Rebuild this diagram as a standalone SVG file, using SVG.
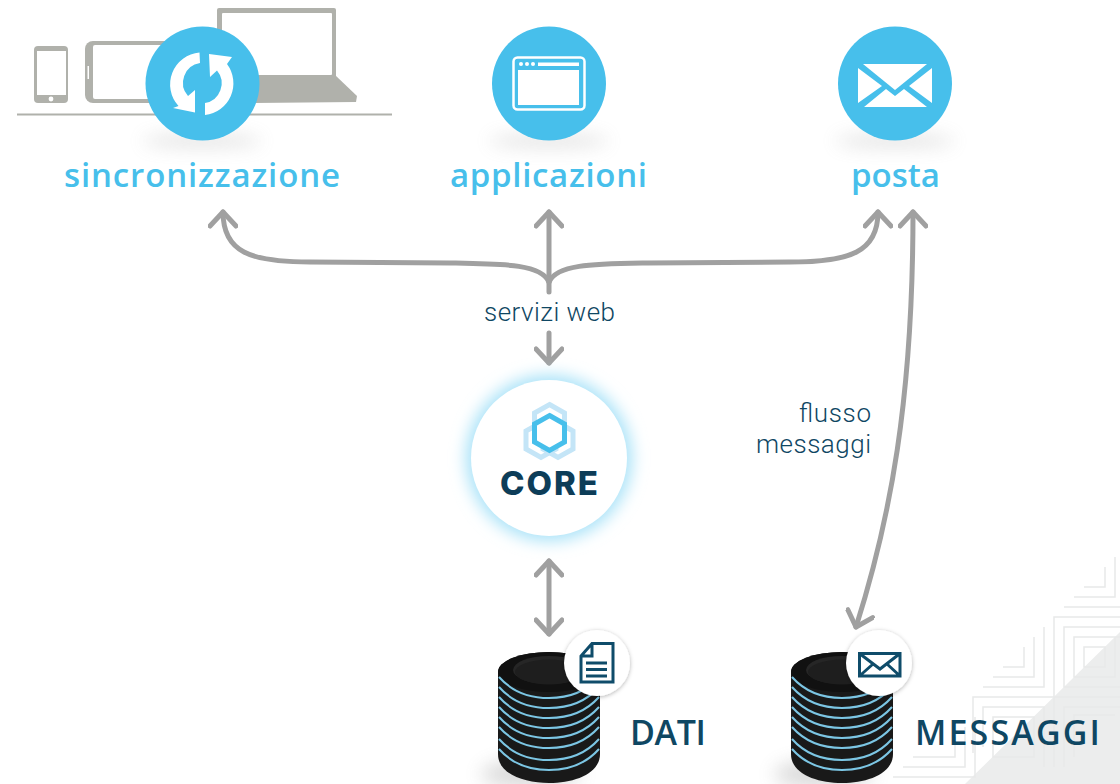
<svg xmlns="http://www.w3.org/2000/svg" width="1120" height="784" viewBox="0 0 1120 784">
<style>
.lbl{font-family:"Open Sans","Noto Sans",sans-serif;font-weight:600;font-size:33px;fill:#47bfeb}
.note{font-family:Roboto,"Noto Sans",sans-serif;font-weight:300;font-size:26px;fill:#0f4763}
.db{font-family:"Open Sans","Noto Sans",sans-serif;font-weight:600;font-size:34px;fill:#0f4763}
.conn{fill:none;stroke:#a0a0a0;stroke-width:5;stroke-linecap:round}
.pat{fill:none;stroke:#e8e9e9;stroke-width:1.5}
.hero{fill:#47bfeb}
.ico{fill:#fff}
.dev{fill:#b0b1ab}
.dk{fill:none;stroke:#0f4c6a;stroke-width:3}
.wave{fill:none;stroke:#7cc6e4;stroke-width:2}
</style>
<defs>
<marker id="ah" viewBox="0 0 20 30" refX="17" refY="15" markerUnits="userSpaceOnUse" markerWidth="20" markerHeight="30" orient="auto-start-reverse">
<path d="M3,2 L17,15 L3,28" fill="none" stroke="#a0a0a0" stroke-width="5" stroke-linecap="round" stroke-linejoin="round"/>
</marker>
<filter id="b8" x="-50%" y="-200%" width="200%" height="500%"><feGaussianBlur stdDeviation="9"/></filter>
<filter id="glow" x="-30%" y="-30%" width="160%" height="160%"><feGaussianBlur stdDeviation="8"/></filter>
<filter id="bs" x="-30%" y="-30%" width="160%" height="160%"><feDropShadow dx="0" dy="1" stdDeviation="2" flood-color="#000" flood-opacity=".3"/></filter>
<g id="cyl">
<ellipse cx="-18" cy="122" rx="50" ry="14" fill="#888" opacity=".3" filter="url(#b8)"/>
<path d="M-51,20 A51,20 0 0 1 51,20 V102 C51,122 25,131 0,131 C-25,131 -51,122 -51,102 Z" fill="#191919"/>
<ellipse cx="0" cy="20" rx="51" ry="20" fill="#111"/>
<ellipse cx="0" cy="18" rx="36" ry="14" fill="#262626"/>
<ellipse cx="0" cy="20" rx="34" ry="12.500" fill="#1e1e1e"/>
<path class="wave" d="M-50,25 C-35,42 -15,46 0,46 C15,46 35,42 50,25"/>
<path class="wave" d="M-50,35 C-35,52 -15,56 0,56 C15,56 35,52 50,35"/>
<path class="wave" d="M-50,45 C-35,62 -15,66 0,66 C15,66 35,62 50,45"/>
<path class="wave" d="M-50,55 C-35,72 -15,76 0,76 C15,76 35,72 50,55"/>
<path class="wave" d="M-50,65 C-35,82 -15,86 0,86 C15,86 35,82 50,65"/>
<path class="wave" d="M-50,75 C-35,92 -15,96 0,96 C15,96 35,92 50,75"/>
<path class="wave" d="M-50,87 C-35,104 -15,108 0,108 C15,108 35,104 50,87"/>
<path class="wave" d="M-50,97 C-35,114 -15,118 0,118 C15,118 35,114 50,97"/>
</g>
</defs>
<rect width="1120" height="784" fill="#fff"/>
<g id="background">
<path d="M1120,632 L965,784 H1120 Z" fill="#eceded"/>
<path class="pat" d="M1084,587 H1105 V567 M1074,597 H1115 V557 M1064,607 H1120 M1120,617 H1054 V767 M1120,627 H1064 V687 H1120 M1120,637 H1074 V677 H1115 V637 M1084,647 H1105 V667 H1084 Z M1003,667 H1024 V647 M993,677 H1034 V637 M983,687 H1044 V627 M973,753 V697 H1120 M983,747 V707 H1044 V767 M993,717 H1034 V757 H993 Z M1120,707 H1064 V767 M1115,715 H1074 V757 M913,757 H955 V737 M903,767 H965 V727 M893,777 H975 V717"/>
</g>
<g id="sincronizzazione">
<path class="dev" d="M38,46 H64 A4,4 0 0 1 68,50 V99 A4,4 0 0 1 64,103 H38 A4,4 0 0 1 34,99 V50 A4,4 0 0 1 38,46 Z"/>
<rect x="37" y="51" width="29" height="44" fill="#fff"/>
<circle cx="51" cy="99" r="2.400" fill="#fff"/>
<path class="dev" d="M93,41 H170 V103 H93 A8,8 0 0 1 85,95 V49 A8,8 0 0 1 93,41 Z"/>
<rect x="93" y="45" width="77" height="54" rx="2" fill="#fff"/>
<rect x="87.500" y="66" width="1.500" height="13" fill="#fff"/>
<rect x="217" y="8" width="119" height="72" rx="2" class="dev"/>
<rect x="222" y="13" width="110" height="62" rx="1" fill="#fff"/>
<path class="dev" d="M240,75 H335 L357,96 L356,102 L240,103 Z"/>
<rect x="17" y="113.500" width="375" height="2" class="dev"/>
<ellipse cx="202" cy="141" rx="60" ry="6" fill="#999" opacity=".3" filter="url(#b8)"/>
<circle cx="202.500" cy="83.500" r="57" class="hero"/>
<path class="ico" d="M199.500,52.500 A32,32 0 0 0 178.500,106 L173,108 L195,112.500 L195,90 L188,96 A20,20 0 0 1 200,63 Z"/>
<path class="ico" d="M205,115 A32,32 0 0 0 227,64 L232,57 L209,54 L210,77 L217,70.500 A20,20 0 0 1 205,103 Z"/>
<text class="lbl" x="64" y="187" textLength="276" lengthAdjust="spacing">sincronizzazione</text>
</g>
<g id="applicazioni">
<ellipse cx="549" cy="141" rx="60" ry="6" fill="#999" opacity=".3" filter="url(#b8)"/>
<circle cx="549" cy="83.500" r="57" class="hero"/>
<rect x="513.500" y="57.500" width="71" height="52" rx="4" fill="none" stroke="#fff" stroke-width="2.500"/>
<rect x="518" y="70" width="61" height="35" class="ico"/>
<circle cx="521" cy="64" r="2" class="ico"/><circle cx="527" cy="64" r="2" class="ico"/><circle cx="533" cy="64" r="2" class="ico"/>
<rect x="538" y="62.500" width="41" height="3.500" class="ico"/>
<text class="lbl" x="450" y="187" textLength="197" lengthAdjust="spacing">applicazioni</text>
</g>
<g id="posta">
<ellipse cx="895" cy="141" rx="60" ry="6" fill="#999" opacity=".3" filter="url(#b8)"/>
<circle cx="895" cy="83.500" r="57" class="hero"/>
<path class="ico" d="M863,64 H927 L895,90 Z M858,68 L882,86 L858,103 Z M932,68 L909,86 L932,103 Z M864,107 L886,89 L895,96 L904,89 L927,107 Z"/>
<text class="lbl" x="851" y="187" textLength="89" lengthAdjust="spacing">posta</text>
</g>
<g id="connectors">
<path class="conn" d="M549,292 V212" marker-end="url(#ah)"/>
<path class="conn" d="M549,282 C541,264 505,264 450,263 L310,262 C250,262 223,252 223,212" marker-end="url(#ah)"/>
<path class="conn" d="M549,282 C557,264 593,264 648,263 L790,262 C850,262 878,252 878,212" marker-end="url(#ah)"/>
<path class="conn" d="M549,333 V363" marker-end="url(#ah)"/>
<path class="conn" d="M549,561 V634" marker-start="url(#ah)" marker-end="url(#ah)"/>
<path class="conn" d="M913,212 C913,400 890,520 856,627" marker-start="url(#ah)" marker-end="url(#ah)"/>
</g>
<text class="note" x="484" y="321" textLength="131" lengthAdjust="spacing">servizi web</text>
<text class="note" x="799" y="422" textLength="72" lengthAdjust="spacing">flusso</text>
<text class="note" x="756" y="453" textLength="115" lengthAdjust="spacing">messaggi</text>
<g id="core">
<circle cx="549" cy="458" r="83" fill="#a8e2f8" filter="url(#glow)"/>
<circle cx="549" cy="458" r="78" fill="#fff"/>
<g fill="none" stroke="#c4e5f7" stroke-width="5">
<path d="M549.500,404.500 L564.500,413 V431 L549.500,439.500 L534.500,431 V413 Z"/>
<path d="M541,422.500 L556,431 V449 L541,457.500 L526,449 V431 Z"/>
<path d="M558,422.500 L573,431 V449 L558,457.500 L543,449 V431 Z"/>
</g>
<path d="M549.500,415.500 L564.500,424 V442 L549.500,450.500 L534.500,442 V424 Z" fill="#fff" stroke="#47bfeb" stroke-width="5"/>
<text x="500" y="495" textLength="98" lengthAdjust="spacing" style="font-family:Inter,'Liberation Sans',sans-serif;font-weight:800;font-size:33px;fill:#0d3d58">CORE</text>
</g>
<g id="dati">
<use href="#cyl" x="549" y="652"/>
<circle cx="597" cy="663" r="33" fill="#fff" filter="url(#bs)"/>
<path class="dk" d="M592,643.500 H613 V682 H581 V656 Z M592,643.500 V656 H581 M586,663 H607 M586,669.500 H607 M586,676 H607"/>
<text class="db" x="630" y="745" textLength="76" lengthAdjust="spacing">DATI</text>
</g>
<g id="messaggi">
<use href="#cyl" x="842" y="652"/>
<circle cx="879" cy="663" r="33" fill="#fff" filter="url(#bs)"/>
<path class="dk" d="M859.500,653.500 H900 V676 H859.500 Z M859.500,653.500 L880,669 L900,653.500 M859.500,676 L873,664 M900,676 L887,664"/>
<text class="db" x="915" y="745" textLength="185" lengthAdjust="spacing">MESSAGGI</text>
</g>
</svg>
